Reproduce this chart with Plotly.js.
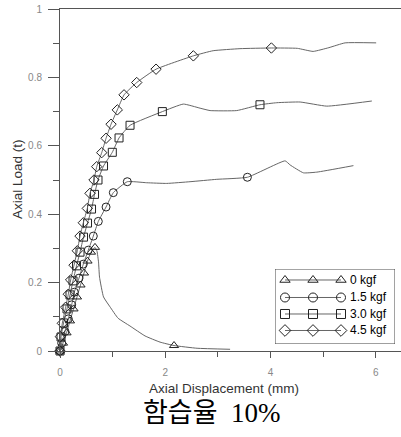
<!DOCTYPE html>
<html>
<head>
<meta charset="utf-8">
<script src="https://cdn.plot.ly/plotly-3.0.1.min.js"></script>
<style>
html,body{margin:0;padding:0;background:#fff;}
#chart{width:401px;height:437px;}
</style>
</head>
<body>
<div id="chart"></div>
<script>
// ---- data ----
const seriesNames = ["0 kgf", "1.5 kgf", "3.0 kgf", "4.5 kgf"];

const disp0 = [0, 0.057, 0.124, 0.190, 0.257, 0.323, 0.390, 0.456, 0.523, 0.589, 0.665, 0.703, 0.732, 0.751, 0.827, 0.951, 1.103, 1.331, 1.616, 1.901, 2.167, 2.605, 3.232];
const load0 = [0, 0.023, 0.053, 0.088, 0.123, 0.158, 0.193, 0.228, 0.263, 0.289, 0.303, 0.292, 0.260, 0.216, 0.158, 0.129, 0.096, 0.073, 0.044, 0.026, 0.016, 0.008, 0.005];
const marks0 = [0, 1, 2, 3, 4, 5, 6, 7, 8, 9, 10, 20];

const disp15 = [0, 0.032, 0.095, 0.158, 0.222, 0.272, 0.361, 0.443, 0.538, 0.633, 0.728, 0.875, 1.013, 1.279, 1.648, 2.029, 2.471, 2.979, 3.561, 4.278, 4.373, 4.625, 4.880, 5.576];
const load15 = [0, 0.023, 0.057, 0.094, 0.135, 0.172, 0.213, 0.254, 0.295, 0.336, 0.379, 0.421, 0.463, 0.495, 0.492, 0.490, 0.495, 0.502, 0.508, 0.556, 0.544, 0.521, 0.523, 0.542];
const marks15 = [0, 1, 2, 3, 4, 5, 6, 7, 8, 9, 10, 11, 12, 13, 18];

const disp30 = [0, 0.019, 0.067, 0.133, 0.190, 0.247, 0.314, 0.380, 0.447, 0.523, 0.599, 0.656, 0.722, 0.827, 0.994, 1.122, 1.331, 1.945, 2.344, 2.662, 2.852, 3.359, 3.800, 4.120, 4.563, 5.070, 5.926];
const load30 = [0, 0.041, 0.082, 0.123, 0.164, 0.205, 0.249, 0.289, 0.333, 0.374, 0.415, 0.458, 0.500, 0.541, 0.581, 0.623, 0.660, 0.700, 0.722, 0.710, 0.703, 0.703, 0.720, 0.726, 0.728, 0.716, 0.731];
const marks30 = [0, 1, 2, 3, 4, 5, 6, 7, 8, 9, 10, 11, 12, 13, 14, 15, 16, 17, 22];

const disp45 = [0, 0.006, 0.044, 0.108, 0.158, 0.203, 0.266, 0.329, 0.380, 0.443, 0.519, 0.570, 0.646, 0.698, 0.793, 0.875, 0.970, 1.089, 1.217, 1.458, 1.825, 2.534, 2.910, 3.420, 4.017, 4.510, 4.810, 5.110, 5.418, 6.008];
const load45 = [0, 0.042, 0.081, 0.128, 0.166, 0.208, 0.251, 0.293, 0.336, 0.375, 0.417, 0.461, 0.500, 0.539, 0.580, 0.622, 0.663, 0.705, 0.749, 0.785, 0.824, 0.863, 0.878, 0.884, 0.886, 0.885, 0.876, 0.887, 0.901, 0.901];
const marks45 = [0, 1, 2, 3, 4, 5, 6, 7, 8, 9, 10, 11, 12, 13, 14, 15, 16, 17, 18, 19, 20, 21, 24];

const xTickVals = [0, 2, 4, 6];
const yTickVals = [0, 0.2, 0.4, 0.6, 0.8, 1];
const xTitle = "Axial Displacement (mm)";
const yTitle = "Axial Load (t)";
const caption = "함습율  10%";

// ---- styling ----
const symbols = ["triangle-up-open", "circle-open", "square-open", "diamond-open"];
const msize = [8, 8, 8, 8];
const lineColor = "#666";
const markColor = "#222";

const all = [
  [disp0, load0, marks0],
  [disp15, load15, marks15],
  [disp30, load30, marks30],
  [disp45, load45, marks45]
];

const traces = [];
all.forEach(([xs, ys, mk], i) => {
  traces.push({
    x: xs, y: ys, type: "scatter", mode: "lines",
    line: {color: lineColor, width: 1, shape: "spline", smoothing: 0.4}, showlegend: false, hoverinfo: "skip"
  });
  traces.push({
    x: mk.map(k => xs[k]), y: mk.map(k => ys[k]), type: "scatter", mode: "markers",
    marker: {symbol: symbols[i], size: msize[i], color: markColor, line: {color: markColor, width: 1}},
    cliponaxis: false, showlegend: false, name: seriesNames[i]
  });
});

// custom legend (three markers on a line per entry), drawn on a helper axis
const legRowY = [64, 46.5, 30, 13.5];
const legMarkX = [10, 38, 66];
const annotations = [];
seriesNames.forEach((nm, i) => {
  traces.push({
    x: legMarkX, y: legMarkX.map(() => legRowY[i]), xaxis: "x2", yaxis: "y2",
    type: "scatter", mode: "lines+markers",
    line: {color: lineColor, width: 1},
    marker: {symbol: symbols[i], size: 9, color: markColor, line: {color: markColor, width: 1}},
    cliponaxis: false, showlegend: false, hoverinfo: "skip"
  });
  annotations.push({
    x: 73, y: legRowY[i], xref: "x2", yref: "y2", text: nm, showarrow: false,
    xanchor: "left", yanchor: "middle",
    font: {family: "Liberation Sans, Arial, sans-serif", size: 12, color: "#000"}
  });
});

const titleFont = {family: "Liberation Sans, Arial, sans-serif", size: 13.5, color: "#333"};

// axis titles placed as annotations for exact positioning
annotations.push({
  x: 0.481, y: -0.109, xref: "paper", yref: "paper", text: xTitle, showarrow: false,
  xanchor: "center", yanchor: "middle", font: titleFont
});
annotations.push({
  x: -0.123, y: 0.503, xref: "paper", yref: "paper", text: yTitle, showarrow: false,
  textangle: -90, xanchor: "center", yanchor: "middle", font: titleFont
});

annotations.push({
  x: 0.4457, y: -0.18, xref: "paper", yref: "paper", text: caption, showarrow: false,
  xanchor: "center", yanchor: "middle",
  font: {family: "Liberation Serif, Noto Sans CJK KR, serif", size: 27, color: "#000"}
});

const tickFont = {family: "Liberation Sans, Arial, sans-serif", size: 10, color: "#888"};

const layout = {
  width: 401, height: 437,
  margin: {l: 60, r: 0, t: 9, b: 86, pad: 0},
  paper_bgcolor: "#fff", plot_bgcolor: "#fff",
  showlegend: false,
  xaxis: {
    range: [0, 6.48], showgrid: false, zeroline: false,
    showline: true, mirror: true, linecolor: "#555", linewidth: 1,
    tickmode: "array", tickvals: xTickVals, ticktext: xTickVals.map(String),
    ticks: "outside", ticklen: 6, tickcolor: "#555", tickwidth: 1,
    minor: {dtick: 1, tick0: 0, ticks: "outside", ticklen: 5, tickcolor: "#555", tickwidth: 1, showgrid: false},
    tickfont: tickFont, ticklabelstandoff: 6,
    fixedrange: true
  },
  yaxis: {
    range: [0, 1], showgrid: false, zeroline: false,
    showline: true, mirror: false, linecolor: "#555", linewidth: 1,
    tickmode: "array", tickvals: yTickVals, ticktext: yTickVals.map(String),
    ticks: "outside", ticklen: 11, tickcolor: "#555", tickwidth: 1,
    minor: {dtick: 0.1, tick0: 0, ticks: "outside", ticklen: 6, tickcolor: "#555", tickwidth: 1, showgrid: false},
    tickfont: tickFont, ticklabelstandoff: 4,
    fixedrange: true
  },
  xaxis2: {domain: [0.6305, 0.9824], range: [0, 120], anchor: "y2", visible: false, fixedrange: true},
  yaxis2: {domain: [0.0205, 0.2398], range: [0, 75], anchor: "x2", visible: false, fixedrange: true},
  shapes: [{
    type: "rect", xref: "x2", yref: "y2", x0: 0, x1: 120, y0: 0, y1: 75,
    line: {color: "#444", width: 1}, fillcolor: "#fff", layer: "below"
  }],
  annotations: annotations
};

Plotly.newPlot("chart", traces, layout, {displayModeBar: false, staticPlot: true});
</script>
</body>
</html>
